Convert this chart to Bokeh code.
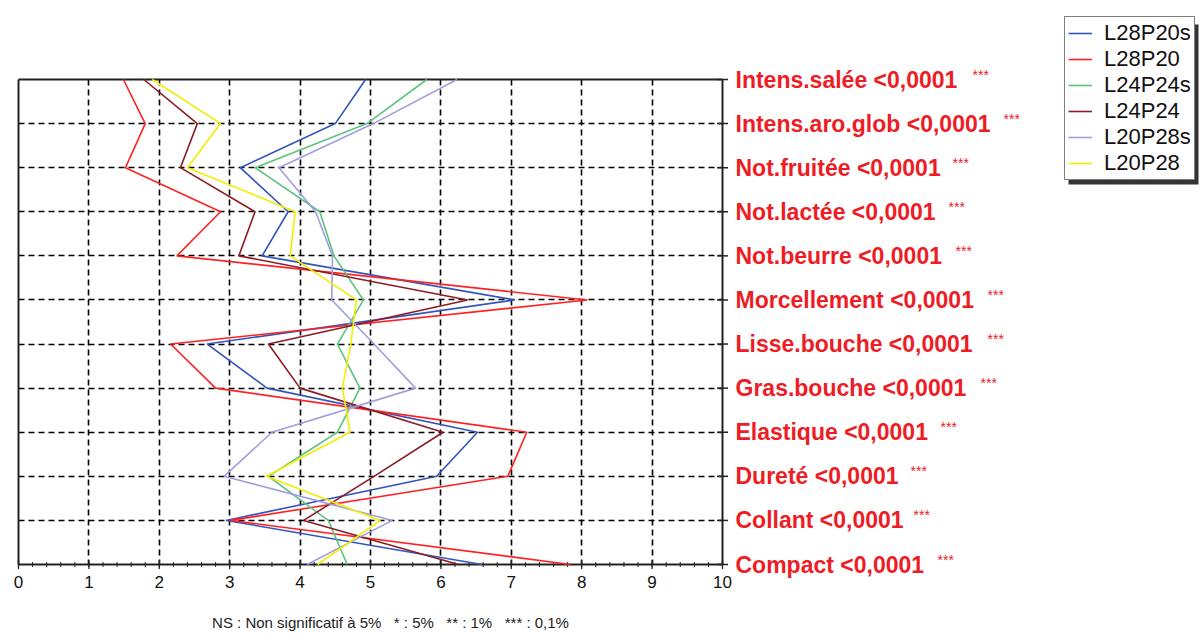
import math
from bokeh.plotting import figure
from bokeh.models import Range1d, FixedTicker, Legend, LegendItem, Grid
from bokeh.core.properties import value
from bokeh.embed import file_html
from bokeh.resources import INLINE

# ---------------- data ----------------
categories = ["Intens.salée", "Intens.aro.glob", "Not.fruitée", "Not.lactée",
              "Not.beurre", "Morcellement", "Lisse.bouche", "Gras.bouche",
              "Elastique", "Dureté", "Collant", "Compact"]
pvalues = ["<0,0001"] * 12
signif = ["***"] * 12

L28P20s = [4.93, 4.50, 3.15, 3.83, 3.46, 7.05, 2.68, 3.53, 6.52, 5.94, 2.95, 6.58]
L28P20 = [1.49, 1.80, 1.52, 2.87, 2.25, 8.08, 2.16, 2.80, 7.22, 6.95, 3.01, 7.84]
L24P24s = [5.80, 4.95, 3.36, 4.28, 4.48, 4.90, 4.53, 4.85, 4.53, 3.55, 4.40, 4.67]
L24P24 = [1.78, 2.54, 2.30, 3.36, 3.13, 6.38, 3.55, 4.00, 6.03, 5.05, 4.05, 6.25]
L20P28s = [6.23, 5.04, 3.70, 4.22, 4.46, 4.45, 5.05, 5.64, 3.60, 2.92, 5.31, 4.10]
L20P28 = [1.90, 2.87, 2.40, 3.93, 3.86, 4.80, 4.72, 4.60, 4.71, 3.52, 5.14, 4.25]

series_names = ["L28P20s", "L28P20", "L24P24s", "L24P24", "L20P28s", "L20P28"]
series_values = [L28P20s, L28P20, L24P24s, L24P24, L20P28s, L20P28]
series_colors = ["#3355bb", "#ff2222", "#5cc47c", "#8b1c24", "#9f9fe0", "#f2ee00"]

x_ticks = list(range(0, 11))
x_tick_labels = [str(t) for t in x_ticks]
x_min, x_max = 0, 10
NB = "\u00a0"
footnote = f"NS : Non significatif à 5%{NB}{NB} * : 5%{NB}{NB} ** : 1%{NB}{NB} *** : 0,1%"

# pixel offsets of the significance stars from the right axis line
star_offsets = [250, 281, 230, 226, 233, 265, 265, 258, 218, 188, 191, 215]

# ---------------- layout (pixels) ----------------
W, H = 1200, 632
FRAME_LEFT = 18        # x = 0
AXIS_X10 = 722         # x = 10
ROW_TOP = 79           # first category
ROW_BOTTOM = 564       # last category (x axis)
LEG_LEFT, LEG_TOP, LEG_RIGHT, LEG_BOTTOM = 1064, 20, 1194, 180

rows = list(range(len(categories)))
n = len(categories) - 1
px_per_x = (AXIS_X10 - FRAME_LEFT) / (x_max - x_min)
px_per_row = (ROW_BOTTOM - ROW_TOP) / n


def xdata(px):
    return x_min + (px - FRAME_LEFT) / px_per_x


def ydata(py):
    return (py - ROW_TOP) / px_per_row


RED = "#ee1c25"
DARK = "#222222"
FONT = "Liberation Sans"

p = figure(width=W, height=H, x_range=Range1d(xdata(0), xdata(W)),
           y_range=Range1d(ydata(H), ydata(0)),
           x_axis_location=None, y_axis_location=None,
           output_backend="svg", toolbar_location=None,
           min_border_left=0, min_border_top=0, min_border_right=0,
           min_border_bottom=0)
p.background_fill_color = "white"
p.border_fill_color = "white"
p.outline_line_color = None

# dashed grids
p.xgrid.ticker = FixedTicker(ticks=x_ticks[1:-1])
p.xgrid.cross_bounds = (0, n)
p.ygrid.ticker = FixedTicker(ticks=rows[1:-1])
p.ygrid.cross_bounds = (x_min, x_max)
for g in (p.xgrid, p.ygrid):
    g.grid_line_color = "black"
    g.grid_line_dash = "6 4"
    g.grid_line_width = 1.6

# solid frame borders (left, right, top, bottom)
p.add_layout(Grid(dimension=0, ticker=FixedTicker(ticks=[x_min, x_max]),
                  cross_bounds=(0, n), grid_line_color=DARK, grid_line_width=2))
p.add_layout(Grid(dimension=1, ticker=FixedTicker(ticks=[0, n]),
                  cross_bounds=(x_min, x_max), grid_line_color=DARK, grid_line_width=2))

# x axis ticks and labels
minor = [x_min + i * 0.2 for i in range(int((x_max - x_min) / 0.2) + 1)]
p.scatter(x=minor, y=[n] * len(minor), marker="dash", angle=math.pi / 2, size=5,
          line_color=DARK, line_width=1)
p.scatter(x=x_ticks, y=[n] * len(x_ticks), marker="dash", angle=math.pi / 2, size=9,
          line_color=DARK, line_width=1.3)
p.text(x=x_ticks, y=[n] * len(x_ticks), text=x_tick_labels, y_offset=17,
       text_color="#111111", text_font=value(FONT), text_font_size="17px",
       text_align="center", text_baseline="middle")
p.text(x=[(x_min + x_max) / 2], y=[n], text=[footnote], x_offset=20, y_offset=58,
       text_color=DARK, text_font=value(FONT), text_font_size="15px",
       text_align="center", text_baseline="middle")

# right category axis: ticks, labels, stars
p.scatter(x=[x_max] * len(rows), y=rows, marker="dash", size=11,
          line_color=DARK, line_width=1.5)
labels = [f"{c} {pv}" for c, pv in zip(categories, pvalues)]
p.text(x=[x_max] * len(rows), y=rows, text=labels, x_offset=13,
       text_color=RED, text_font=value(FONT), text_font_style="bold",
       text_font_size="23px", text_baseline="middle", text_align="left")
p.text(x=[x_max] * len(rows), y=rows, text=signif, x_offset=star_offsets, y_offset=-5,
       text_color=RED, text_font=value(FONT), text_font_size="14px",
       text_baseline="middle", text_align="left")

# lines
items = []
for name, vals, col in zip(series_names, series_values, series_colors):
    r = p.line(x=vals, y=rows, line_color=col, line_width=1.6)
    items.append(LegendItem(label=name, renderers=[r]))

# legend drop shadow
p.quad(left=[xdata(LEG_LEFT + 4)], right=[xdata(LEG_RIGHT + 4)],
       top=[ydata(LEG_TOP + 4)], bottom=[ydata(LEG_BOTTOM + 4)],
       fill_color="#333333", line_color=None)

legend = Legend(items=items, location=(LEG_LEFT, H - LEG_BOTTOM))
legend.border_line_color = "black"
legend.border_line_width = 1.5
legend.background_fill_color = "white"
legend.background_fill_alpha = 1
legend.label_text_font = FONT
legend.label_text_font_size = "22px"
legend.label_text_color = "#111111"
legend.glyph_width = 24
legend.glyph_height = 22
legend.label_height = 22
legend.label_standoff = 12
legend.padding = 3
legend.spacing = 0
legend.margin = 0
p.add_layout(legend)

open("out.html", "w").write(file_html(p, INLINE))
